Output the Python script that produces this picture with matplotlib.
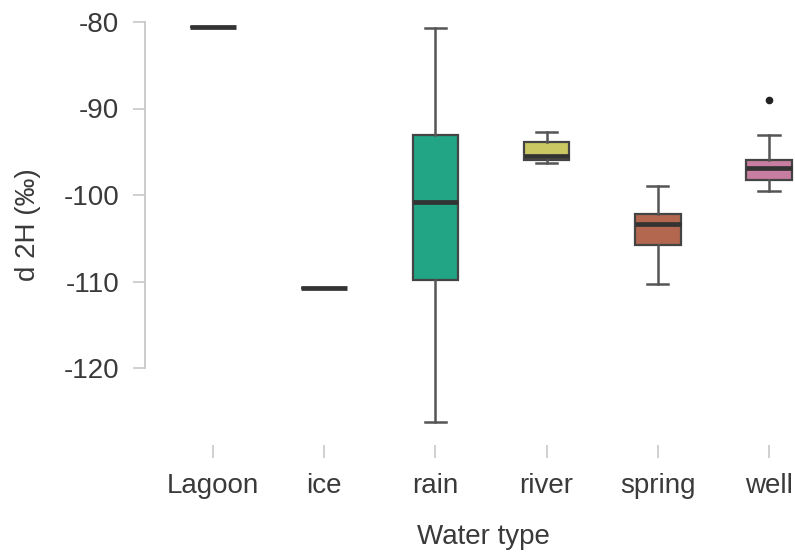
import matplotlib
matplotlib.use("Agg")
import matplotlib.pyplot as plt

plt.rcParams['font.family'] = ['Liberation Sans', 'DejaVu Sans']

categories = ["Lagoon", "ice", "rain", "river", "spring", "well"]
whislo = [-80.6, -110.7, -126.3, -96.3, -110.3, -99.5]
q1 = [-80.6, -110.7, -109.8, -95.9, -105.8, -98.3]
med = [-80.6, -110.7, -100.8, -95.5, -103.4, -96.9]
q3 = [-80.6, -110.7, -93.1, -93.9, -102.2, -96.0]
whishi = [-80.6, -110.7, -80.7, -92.7, -99.0, -93.1]
fliers = [[], [], [], [], [], [-89.0]]
fill_colors = ["none", "none", "#21a584", "#c9c862", "#b3674f", "#c77ea0"]

yticks = [-80, -90, -100, -110, -120]

W, H = 795, 555
fig = plt.figure(figsize=(W / 100, H / 100), dpi=100)
ax = fig.add_axes([145 / W, (H - 445) / H, (795 - 145) / W, (445 - 10) / H])

stats = []
for i, c in enumerate(categories):
    stats.append(dict(label=c, whislo=whislo[i], q1=q1[i], med=med[i],
                      q3=q3[i], whishi=whishi[i], fliers=fliers[i]))

pos = list(range(len(categories)))
bp = ax.bxp(stats, positions=pos, widths=0.41, patch_artist=True,
            showfliers=True,
            boxprops=dict(edgecolor="#444444", linewidth=1.6),
            whiskerprops=dict(color="#555555", linewidth=1.8),
            capprops=dict(color="#555555", linewidth=1.8),
            medianprops=dict(color="#333333", linewidth=3.4),
            flierprops=dict(marker="o", markersize=4.5, markerfacecolor="#222222",
                            markeredgecolor="#222222"),
            capwidths=0.19)
for patch, col in zip(bp["boxes"], fill_colors):
    if col == "none":
        patch.set_facecolor("none")
    else:
        patch.set_facecolor(col)

# pixel mapping: -80 at y=22 px, -120 at y=368 px
ppu = (368 - 22) / 40.0
ax.set_ylim(-80 - (445 - 22) / ppu, -80 + (22 - 10) / ppu)
ax.set_xlim((145 - 213) / 111.2, (795 - 213) / 111.2)

ax.set_yticks(yticks)
ax.set_yticklabels([str(t) for t in yticks])
ax.set_xticks(pos)
ax.set_xticklabels(categories)

for s in ["top", "right", "bottom"]:
    ax.spines[s].set_visible(False)
ax.spines["left"].set_bounds(-120, -80)
ax.spines["left"].set_color("#c8c8c8")
ax.spines["left"].set_linewidth(1.3)

ax.tick_params(axis="y", length=8.6, width=1.2, color="#c8c8c8", pad=10,
               labelsize=20, labelcolor="#3a3a3a")
ax.tick_params(axis="x", length=9, width=1.2, color="#c8c8c8", pad=11,
               labelsize=20, labelcolor="#3a3a3a")

fig.text(28 / W, 1 - 225 / H, "d 2H (‰)", rotation=90, ha="center", va="center",
         fontsize=20, color="#3a3a3a")
fig.text(483 / W, 1 - 537 / H, "Water type", ha="center", va="center",
         fontsize=20, color="#3a3a3a")

fig.savefig("out.png", dpi=100)
